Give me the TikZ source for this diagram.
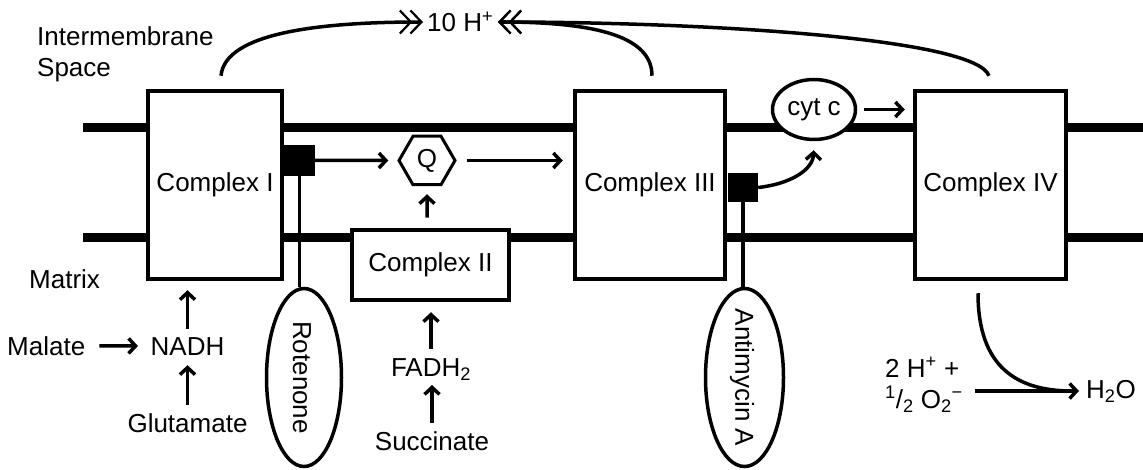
\documentclass[tikz,border=0pt]{standalone}
\usepackage{fontspec}
\setmainfont{Liberation Sans}
\usetikzlibrary{arrows.meta,shapes.geometric}
\begin{document}
\begin{tikzpicture}[x=1pt,y=-1pt,
  every node/.style={font=\fontsize{26}{31}\selectfont, inner sep=0pt},
  membrane/.style={line width=8.5pt},
  cplx/.style={draw, line width=4.5pt, fill=white, rectangle, minimum width=#1, minimum height=188pt},
  blk/.style={fill=black, rectangle},
  inhib/.style={draw, ellipse, line width=3.5pt, fill=white, minimum width=75pt, minimum height=178pt},
  stem/.style={line width=3.5pt},
  arr/.style={line width=3.5pt, -{Straight Barb[length=7pt,width=15pt]}},
  harr/.style={line width=3.5pt, -{Straight Barb[length=11pt,width=23pt,line width=2.2pt,sep=-3pt]Straight Barb[length=11pt,width=23pt,line width=2.2pt]}},
  curve/.style={line width=3.5pt},
  lab/.style={anchor=base west},
  clab/.style={anchor=base}
]
\fill[white] (0,0) rectangle (1143,470);
\useasboundingbox (0,0) rectangle (1143,470);

% membranes
\coordinate (mTL) at (83,127.5);
\coordinate (mTR) at (1143,127.5);
\coordinate (mBL) at (83,237.5);
\coordinate (mBR) at (1143,237.5);
\draw[membrane] (mTL) -- (mTR);
\draw[membrane] (mBL) -- (mBR);

% complexes
\node[cplx=134pt] (CI) at (215,185) {Complex I};
\node[cplx=150pt] (CIII) at (650,185) {Complex III};
\node[cplx=151pt] (CIV) at (990.5,185) {Complex IV};
\node[draw, line width=4.5pt, fill=white, minimum width=157pt, minimum height=70pt] (CII) at (430.5,265) {Complex II};

% inhibitors
\node[inhib] (Rot) at (304,377.5) {};
\node[rotate=-90] (RotT) at (302,377.5) {Rotenone};
\node[inhib, minimum width=78pt] (Ant) at (744.5,377.5) {};
\node[rotate=-90] (AntT) at (742,377.5) {Antimycin A};

\node[blk, minimum width=31pt, minimum height=31pt] (S1) at (299.5,160.5) {};
\node[blk, minimum width=30pt, minimum height=29pt] (S3) at (743,187.5) {};
\draw[stem] (S1.south) -- (S1.south |- Rot.north);
\draw[stem] (S3.south) -- (S3.south |- Ant.north);

% carriers
\node[draw, regular polygon, regular polygon sides=6, minimum size=56pt, line width=3pt, fill=white] (Q) at (427,160.5) {Q};
\node[draw, ellipse, line width=3.5pt, fill=white, minimum width=83pt, minimum height=60pt] (cyt) at (814,109.5) {cyt c};

% labels
\node[lab] (IMS1) at (37,46) {Intermembrane};
\node[lab] (IMS2) at (37,77) {Space};
\node[lab] (Mat) at (29,289) {Matrix};
\node[lab] (Mal) at (7,355) {Malate};
\node[clab] (NADH) at (187.5,355) {NADH};
\node[clab] (Glu) at (187.5,432) {Glutamate};
\node[clab] (FAD) at (431,376) {FADH\textsubscript{2}};
\node[clab] (Suc) at (432,450) {Succinate};
\node[lab] (H10) at (427,32) {10 H\textsuperscript{+}};
\node[lab] (H2O) at (1086,398) {H\textsubscript{2}O};
\node[lab] (reac1) at (885,377) {2 H\textsuperscript{+} +};
\node[lab] (reac2) at (885,408) {\textsuperscript{1}/\textsubscript{2} O\textsubscript{2}\textsuperscript{−}};

\coordinate (hL) at (423,22);
\coordinate (hR) at (498,22);

% proton curves
\draw[harr] ([xshift=6pt,yshift=13pt]CI.north) .. controls +(4,-43) and +(-103,0) .. (hL);
\draw[harr] ([xshift=2pt,yshift=13pt]CIII.north) .. controls +(0,-38) and +(102,0) .. (hR);
\draw[harr] ([xshift=-1.5pt,yshift=13pt]CIV.north) .. controls +(-14,-38) and +(202,0) .. (hR);

% electron flow arrows
\draw[arr, shorten >=9pt] (S1.east) -- (Q.west);
\draw[arr, shorten <=10pt, shorten >=10pt] (Q.east) -- (CIII.west |- Q.east);
\draw[arr, shorten <=10pt, shorten >=8pt] (CII.north -| Q) -- (Q.south);
\draw[arr, shorten >=9pt] (S3.east) .. controls (790,184) and (813,170) .. (cyt.south);
\draw[arr, shorten <=6.5pt, shorten >=8pt] (cyt.east) -- (CIV.west |- cyt.east);

% substrates
\draw[arr, shorten <=8pt, shorten >=9pt] (NADH.north) -- (NADH.north |- CI.south);
\draw[arr, shorten <=8pt, shorten >=10pt] (Glu.north) -- (Glu.north |- NADH.south);
\draw[arr, shorten <=14pt, shorten >=12.5pt] (Mal.east) -- (NADH.west);
\draw[arr, shorten <=9pt, shorten >=10pt] (FAD.north) -- (FAD.north |- CII.south);
\draw[arr, shorten <=8pt, shorten >=9pt] (Suc.north) -- (Suc.north |- FAD.base);

% water formation
\draw[arr, shorten <=12pt, shorten >=7pt] (reac2.east |- H2O.west) -- (H2O.west);
\draw[curve] ([xshift=-12.5pt,yshift=-12pt]CIV.south) .. controls +(0,74) and +(-55,0) .. ([xshift=-14pt]H2O.west);
\end{tikzpicture}
\end{document}
